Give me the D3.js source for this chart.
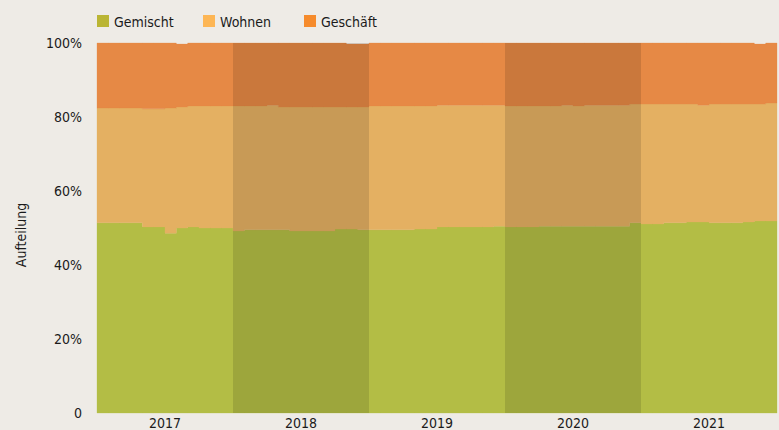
<!DOCTYPE html>
<html>
<head>
<meta charset="utf-8">
<script src="https://cdnjs.cloudflare.com/ajax/libs/d3/7.8.5/d3.min.js"></script>
<style>
  body { margin: 0; background: #eeebe6; }
  svg { display: block; }
  text { font-family: "DejaVu Sans Condensed", "Liberation Sans Narrow", "Noto Sans", sans-serif; fill: #1a1a1a; }
</style>
</head>
<body>
<div id="chart"></div>
<script>
var years = ["2017", "2018", "2019", "2020", "2021"];
var seriesNames = ["Gemischt", "Wohnen", "Geschäft"];
var legendColors = ["#bab534", "#fdb655", "#f68b2c"];
var areaColors = ["#b3bd45", "#e4b062", "#e68945"];
var yTicks = [0, 20, 40, 60, 80, 100];

// monthly shares in %, Jan 2017 .. Dec 2021
var gemischt = [
  51.4, 51.4, 51.4, 51.4, 50.3, 50.3, 48.6, 50.0, 50.3, 50.0, 50.0, 50.0,
  49.2, 49.5, 49.5, 49.5, 49.5, 49.2, 49.2, 49.2, 49.2, 49.7, 49.7, 49.5,
  49.5, 49.5, 49.5, 49.5, 49.7, 49.7, 50.3, 50.3, 50.3, 50.3, 50.3, 50.5,
  50.3, 50.3, 50.3, 50.5, 50.5, 50.5, 50.5, 50.5, 50.5, 50.5, 50.5, 51.4,
  51.1, 51.1, 51.4, 51.4, 51.6, 51.6, 51.4, 51.4, 51.4, 51.6, 51.9, 51.9
];
var wohnen = [
  31.0, 31.0, 31.0, 31.0, 31.9, 31.9, 33.8, 32.7, 32.7, 33.0, 33.0, 33.0,
  33.8, 33.5, 33.5, 33.7, 33.2, 33.5, 33.5, 33.5, 33.5, 33.0, 33.0, 33.2,
  33.5, 33.5, 33.5, 33.5, 33.3, 33.3, 32.9, 32.9, 32.9, 32.9, 32.9, 32.7,
  32.7, 32.7, 32.7, 32.5, 32.5, 32.7, 32.5, 32.7, 32.7, 32.7, 32.7, 32.1,
  32.4, 32.4, 32.1, 32.1, 31.9, 31.6, 32.1, 32.1, 32.1, 31.9, 31.6, 31.9
];
var geschaeft = [
  17.6, 17.6, 17.6, 17.6, 17.8, 17.8, 17.6, 17.0, 17.0, 17.0, 17.0, 17.0,
  17.0, 17.0, 17.0, 16.8, 17.3, 17.3, 17.3, 17.3, 17.3, 17.3, 17.0, 17.0,
  17.0, 17.0, 17.0, 17.0, 17.0, 17.0, 16.8, 16.8, 16.8, 16.8, 16.8, 16.8,
  17.0, 17.0, 17.0, 17.0, 17.0, 16.8, 17.0, 16.8, 16.8, 16.8, 16.8, 16.5,
  16.5, 16.5, 16.5, 16.5, 16.5, 16.8, 16.5, 16.5, 16.5, 16.5, 16.2, 16.2
];

var svgWidth = 779;
var svgHeight = 430;
var margin = { top: 43, right: 2, bottom: 17, left: 97 };
var width = svgWidth - margin.left - margin.right;
var height = svgHeight - margin.top - margin.bottom;
var fontFam = "'DejaVu Sans Condensed', 'Liberation Sans Narrow', 'Noto Sans', sans-serif";

var svg = d3.select("#chart")
  .append("svg")
  .attr("width", svgWidth)
  .attr("height", svgHeight);

var chartGroup = svg.append("g")
  .attr("transform", `translate(${margin.left}, ${margin.top})`);

// build table for d3.stack, one row per month
var data = gemischt.map(function(d, i) {
  return { idx: i, Gemischt: d, Wohnen: wohnen[i], "Geschäft": geschaeft[i] };
});

var stacked = d3.stack().keys(seriesNames)(data);

var xScale = d3.scaleLinear()
  .domain([0, data.length])
  .range([0, width]);

var yScale = d3.scaleLinear()
  .domain([0, 100])
  .range([height, 0]);

var yearScale = d3.scaleBand()
  .domain(years)
  .range([0, width]);

// step areas: each month spans [i, i+1]
stacked.forEach(function(layer, k) {
  var pts = [];
  layer.forEach(function(d, i) {
    pts.push({ x: i, y0: d[0], y1: d[1] });
    pts.push({ x: i + 1, y0: d[0], y1: d[1] });
  });
  var area = d3.area()
    .x(d => xScale(d.x))
    .y0(d => yScale(d.y0))
    .y1(d => yScale(d.y1));
  chartGroup.append("path")
    .datum(pts)
    .attr("fill", areaColors[k])
    .attr("stroke", areaColors[k])
    .attr("stroke-width", 0.3)
    .attr("d", area);
});

// darker bands for every second year
chartGroup.selectAll("rect.band")
  .data(years.filter((y, i) => i % 2 == 1))
  .enter()
  .append("rect")
  .attr("class", "band")
  .attr("x", d => yearScale(d))
  .attr("width", yearScale.bandwidth())
  .attr("y", yScale(100))
  .attr("height", yScale(0) - yScale(100))
  .attr("fill", "#000")
  .attr("opacity", 0.12);

// y axis labels
var leftAxis = d3.axisLeft(yScale)
  .tickValues(yTicks)
  .tickSize(0)
  .tickPadding(15)
  .tickFormat(d => d == 0 ? "0" : d + "%");

chartGroup.append("g")
  .call(leftAxis)
  .call(g => g.select(".domain").remove())
  .selectAll("text")
  .attr("font-size", "14px")
  .attr("fill", "#1a1a1a")
  .attr("font-family", fontFam);

// x axis labels
var bottomAxis = d3.axisBottom(yearScale).tickSize(0).tickPadding(5);
chartGroup.append("g")
  .attr("transform", `translate(0, ${height})`)
  .call(bottomAxis)
  .call(g => g.select(".domain").remove())
  .selectAll("text")
  .attr("font-size", "14px")
  .attr("fill", "#1a1a1a")
  .attr("font-family", fontFam);

// y title
svg.append("text")
  .attr("transform", "rotate(-90)")
  .attr("x", -235)
  .attr("y", 26)
  .attr("text-anchor", "middle")
  .attr("font-size", "14px")
  .text("Aufteilung");

// legend
var legendX = [97, 203, 304];
var legend = svg.selectAll("g.legend")
  .data(seriesNames)
  .enter()
  .append("g")
  .attr("class", "legend")
  .attr("transform", (d, i) => `translate(${legendX[i]}, 15)`);

legend.append("rect")
  .attr("width", 12)
  .attr("height", 12)
  .attr("fill", (d, i) => legendColors[i]);

legend.append("text")
  .attr("x", 17)
  .attr("y", 12)
  .attr("font-size", "14px")
  .text(d => d);
</script>
</body>
</html>
